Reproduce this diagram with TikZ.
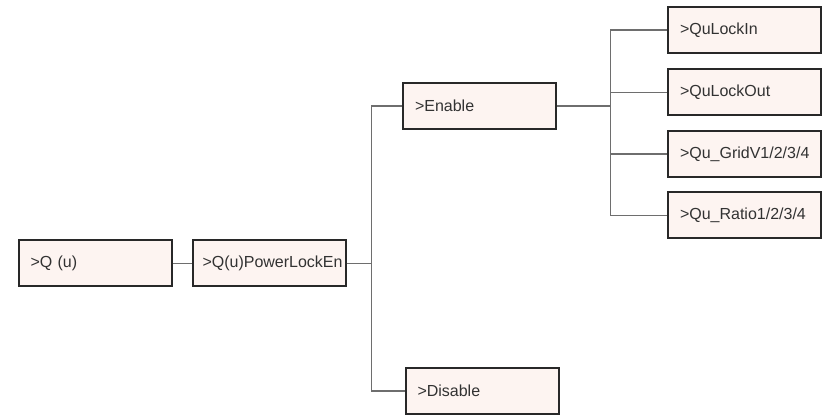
\documentclass[tikz,border=0pt]{standalone}
\usepackage{fontspec}
\setmainfont{Liberation Sans}
\usepackage{tikz}
\usepackage{xcolor}
\definecolor{boxfill}{RGB}{253,244,241}
\definecolor{boxline}{RGB}{40,40,40}
\definecolor{linkgray}{RGB}{110,110,110}
\definecolor{textgray}{RGB}{50,50,50}

\begin{document}
\begin{tikzpicture}[x=0.75pt,y=-0.75pt,
  menubox/.style={draw=boxline,fill=boxfill,line width=1.5pt,minimum height=34.5pt,
    text width=96.75pt,inner xsep=9pt,align=left,text=textgray,font=\fontsize{12}{14}\selectfont},
  link/.style={draw=linkgray,line width=0.9pt}]
\useasboundingbox (0,0) rectangle (828,416);
\node[menubox] (qu) at (95,263.5) {>Q (u)};
\node[menubox,inner xsep=7.5pt,text width=99.75pt] (lockEn) at (269,263.5) {>Q(u)PowerLockEn};
\node[menubox] (enable) at (479.5,106) {>Enable};
\node[menubox] (disable) at (482,391) {>Disable};
\node[menubox] (lockIn) at (744.5,30) {>QuLockIn};
\node[menubox] (lockOut) at (744.5,92.5) {>QuLockOut};
\node[menubox] (gridV) at (744.5,154) {>Qu\_GridV1/2/3/4};
\node[menubox] (ratio) at (744.5,215.5) {>Qu\_Ratio1/2/3/4};
\coordinate (j1) at (371.5,263.5);
\coordinate (j2) at (610.5,106);
\draw[link] (qu.east)--(lockEn.west);
\draw[link] (lockEn.east)--(j1);
\draw[link] (j1) |- (enable.west);
\draw[link] (j1) |- (disable.west);
\draw[link] (enable.east)--(j2);
\foreach \n in {lockIn,lockOut,gridV,ratio}
  \draw[link] (j2) |- (\n.west);
\end{tikzpicture}
\end{document}
